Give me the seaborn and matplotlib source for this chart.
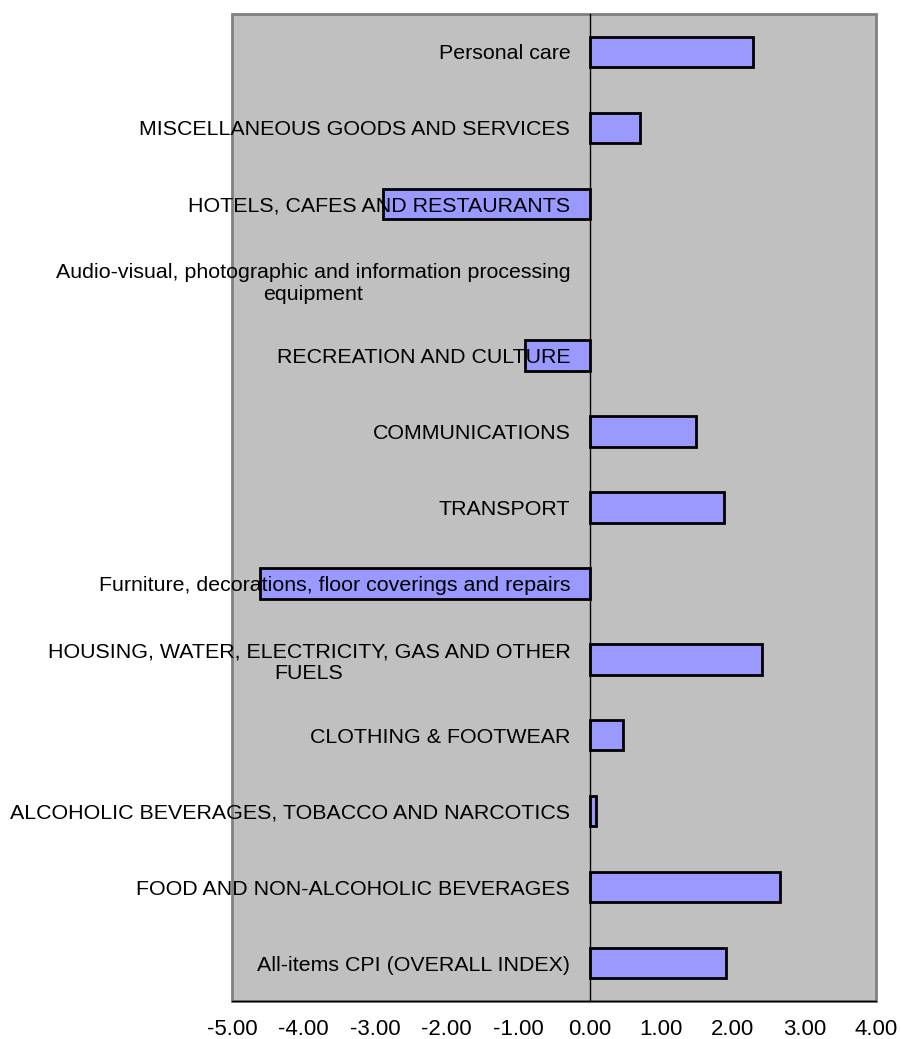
import numpy as np
import matplotlib
matplotlib.use("Agg")
import matplotlib.pyplot as plt
import matplotlib.patches as mpatches
import seaborn as sns

# categories, top to bottom as in the chart
categories = [
    "Personal care",
    "MISCELLANEOUS GOODS AND SERVICES",
    "HOTELS, CAFES AND RESTAURANTS",
    "Audio-visual, photographic and information processing\nequipment",
    "RECREATION AND CULTURE",
    "COMMUNICATIONS",
    "TRANSPORT",
    "Furniture, decorations, floor coverings and repairs",
    "HOUSING, WATER, ELECTRICITY, GAS AND OTHER\nFUELS",
    "CLOTHING & FOOTWEAR",
    "ALCOHOLIC BEVERAGES, TOBACCO AND NARCOTICS",
    "FOOD AND NON-ALCOHOLIC BEVERAGES",
    "All-items CPI (OVERALL INDEX)",
]
values = [2.28, 0.70, -2.89, 0.0, -0.91, 1.48, 1.88, -4.61, 2.41, 0.47, 0.09, 2.66, 1.91]
x_ticks = [-5, -4, -3, -2, -1, 0, 1, 2, 3, 4]

sns.set_style("white")
plt.rcParams['font.family'] = ['Liberation Sans', 'DejaVu Sans']
plt.rcParams['text.color'] = 'black'
plt.rcParams['xtick.color'] = 'black'
plt.rcParams['ytick.color'] = 'black'

fig = plt.figure(figsize=(9.01, 10.39), dpi=100)
ax = fig.add_axes([232/901, 1 - 1001/1039, (876-232)/901, (1001-14)/1039])

sns.barplot(x=values, y=categories, orient='h', color='#9999FF', saturation=1,
            edgecolor='black', linewidth=2, width=0.4, ax=ax)
for p in ax.patches:
    if p.get_width() == 0:
        p.set_linewidth(0)

ax.set_axisbelow(False)
ax.set_facecolor('#C0C0C0')
ax.set_xlim(-5, 4)
ax.set_xticks(x_ticks)
ax.set_xticklabels(["%.2f" % v for v in x_ticks], fontsize=16)
ax.set_xlabel("")
ax.set_ylabel("")

# y axis sits on the zero line, labels to its left
ax.spines['left'].set_position(('data', 0))
ax.spines['left'].set_color('black')
ax.spines['left'].set_linewidth(1)
ax.spines['left'].set_zorder(3)
ax.spines['bottom'].set_color('black')
ax.spines['bottom'].set_linewidth(1)
ax.spines['top'].set_visible(False)
ax.spines['right'].set_visible(False)
ax.add_patch(mpatches.Rectangle((0, 0), 1, 1, transform=ax.transAxes, fill=False,
                                edgecolor='#808080', linewidth=2, zorder=0.5, clip_on=False))

ax.set_yticks(np.arange(-0.5, len(categories), 1), minor=True)
ax.tick_params(axis='y', which='major', length=0, pad=14, labelsize=15.4, labelcolor='black')
ax.tick_params(axis='y', which='minor', length=5, width=1, color='black', direction='out')
ax.tick_params(axis='x', which='major', length=5, width=1, color='black', direction='out',
               pad=8, labelcolor='black')
for lbl in ax.get_yticklabels():
    lbl.set_multialignment('center')

fig.savefig("out.png", dpi=100)
